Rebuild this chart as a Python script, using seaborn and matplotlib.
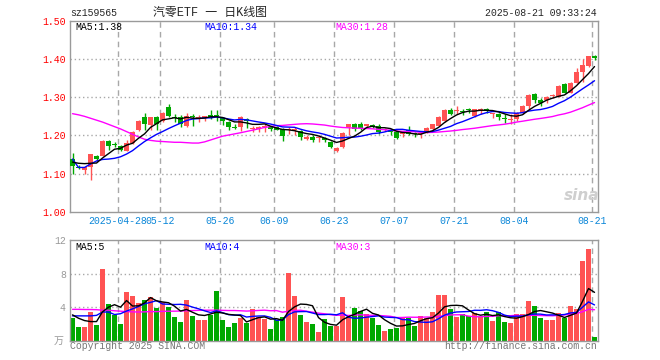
import numpy as np
import pandas as pd
import matplotlib
matplotlib.use("Agg")
import matplotlib.pyplot as plt
import seaborn as sns

# ---- daily candles, index 0 = 2025-04-16 ... index 87 = 2025-08-21 ----
open_ = [1.137, 1.118, 1.110, 1.116, 1.147, 1.147, 1.185, 1.176, 1.172, 1.160,
         1.181, 1.213, 1.247, 1.228, 1.247, 1.238, 1.275, 1.248, 1.248, 1.226,
         1.249, 1.246, 1.246, 1.254, 1.254, 1.245, 1.235, 1.222, 1.223, 1.244,
         1.216, 1.217, 1.221, 1.223, 1.221, 1.216, 1.213, 1.213, 1.212, 1.191,
         1.197, 1.193, 1.193, 1.184, 1.160, 1.169, 1.222, 1.229, 1.229, 1.225,
         1.227, 1.226, 1.213, 1.215, 1.209, 1.204, 1.215, 1.205, 1.203, 1.209,
         1.216, 1.225, 1.238, 1.266, 1.265, 1.264, 1.268, 1.251, 1.266, 1.268,
         1.255, 1.257, 1.245, 1.241, 1.243, 1.259, 1.277, 1.308, 1.294, 1.293,
         1.304, 1.301, 1.335, 1.312, 1.338, 1.367, 1.382, 1.409]
close = [1.119, 1.115, 1.116, 1.150, 1.138, 1.185, 1.172, 1.174, 1.162, 1.180,
         1.209, 1.238, 1.231, 1.247, 1.229, 1.259, 1.251, 1.246, 1.231, 1.251,
         1.247, 1.249, 1.250, 1.247, 1.252, 1.237, 1.221, 1.220, 1.247, 1.239,
         1.218, 1.221, 1.226, 1.217, 1.215, 1.199, 1.216, 1.215, 1.197, 1.197,
         1.188, 1.196, 1.188, 1.169, 1.167, 1.207, 1.229, 1.218, 1.220, 1.229,
         1.225, 1.209, 1.218, 1.209, 1.194, 1.209, 1.204, 1.203, 1.205, 1.220,
         1.229, 1.248, 1.267, 1.257, 1.267, 1.261, 1.266, 1.268, 1.268, 1.266,
         1.258, 1.248, 1.243, 1.244, 1.259, 1.277, 1.306, 1.294, 1.284, 1.300,
         1.305, 1.330, 1.312, 1.338, 1.367, 1.385, 1.409, 1.404]
high = [1.154, 1.122, 1.118, 1.152, 1.148, 1.187, 1.189, 1.182, 1.174, 1.189,
        1.211, 1.240, 1.259, 1.249, 1.250, 1.262, 1.282, 1.255, 1.253, 1.259,
        1.257, 1.253, 1.252, 1.266, 1.267, 1.247, 1.237, 1.230, 1.252, 1.245,
        1.224, 1.226, 1.229, 1.226, 1.224, 1.219, 1.221, 1.221, 1.215, 1.200,
        1.200, 1.200, 1.197, 1.186, 1.169, 1.209, 1.231, 1.233, 1.235, 1.231,
        1.231, 1.229, 1.220, 1.218, 1.211, 1.211, 1.224, 1.209, 1.209, 1.222,
        1.231, 1.250, 1.269, 1.272, 1.277, 1.268, 1.273, 1.270, 1.273, 1.273,
        1.260, 1.259, 1.257, 1.255, 1.262, 1.279, 1.308, 1.310, 1.297, 1.303,
        1.309, 1.332, 1.337, 1.341, 1.376, 1.400, 1.409, 1.411]
low = [1.100, 1.112, 1.100, 1.084, 1.134, 1.146, 1.162, 1.169, 1.158, 1.158,
       1.178, 1.212, 1.215, 1.213, 1.213, 1.234, 1.248, 1.235, 1.222, 1.222,
       1.226, 1.235, 1.237, 1.244, 1.238, 1.228, 1.215, 1.217, 1.212, 1.219,
       1.210, 1.210, 1.208, 1.212, 1.213, 1.185, 1.203, 1.201, 1.188, 1.187,
       1.182, 1.182, 1.182, 1.166, 1.156, 1.167, 1.200, 1.211, 1.215, 1.222,
       1.220, 1.205, 1.211, 1.200, 1.191, 1.197, 1.202, 1.196, 1.193, 1.207,
       1.215, 1.224, 1.235, 1.253, 1.257, 1.253, 1.258, 1.249, 1.257, 1.258,
       1.245, 1.240, 1.233, 1.229, 1.238, 1.257, 1.266, 1.284, 1.277, 1.284,
       1.298, 1.300, 1.310, 1.310, 1.337, 1.341, 1.380, 1.398]
# volume in 万
volume = [2.74, 1.62, 1.62, 3.46, 1.86, 8.58, 4.38, 3.10, 1.98, 5.82,
          5.30, 4.50, 4.86, 5.14, 3.90, 4.62, 4.02, 2.82, 2.22, 4.86,
          2.94, 2.46, 2.46, 3.10, 5.94, 2.46, 1.62, 2.14, 2.74, 2.14,
          3.78, 2.86, 2.58, 1.38, 2.46, 2.78, 8.10, 5.34, 3.06, 2.26,
          1.98, 1.02, 2.58, 1.78, 1.78, 5.22, 2.86, 3.94, 3.54, 3.14,
          2.74, 1.86, 1.14, 1.38, 1.50, 2.86, 2.66, 1.78, 2.98, 2.74,
          3.46, 5.46, 5.46, 3.78, 2.86, 3.14, 2.98, 3.26, 2.86, 3.46,
          2.34, 3.38, 2.26, 2.14, 3.22, 3.22, 4.66, 4.06, 2.74, 2.46,
          2.46, 3.34, 2.74, 4.06, 3.78, 9.46, 10.98, 0.46]

# moving-average values before a full window
ma5_head = [1.130, 1.127, 1.126, 1.127]
ma10_head = [1.138, 1.116, 1.116, 1.125, 1.133, 1.137, 1.138, 1.140, 1.144]
ma30_head = [1.257, 1.254, 1.250, 1.245, 1.240, 1.235, 1.229, 1.223, 1.217, 1.210,
             1.203, 1.196, 1.190, 1.187, 1.185, 1.184, 1.183, 1.182, 1.182, 1.181,
             1.180, 1.180, 1.183, 1.188, 1.193, 1.198, 1.201, 1.204, 1.207]
vma5_head = [3.06, 2.66, 2.38, 2.26]
vma10_head = [2.94, 2.94, 2.94, 2.94, 3.00, 3.40, 3.40, 3.10, 3.20]
vma30_head = [3.72, 3.72, 3.70, 3.70, 3.68, 3.62, 3.62, 3.55, 3.50, 3.45,
              3.42, 3.40, 3.42, 3.45, 3.45, 3.48, 3.50, 3.50, 3.52, 3.55,
              3.58, 3.60, 3.62, 3.62, 3.62, 3.60, 3.58, 3.58, 3.55]

tick_pos = [8, 15, 25, 34, 44, 54, 64, 74, 87]
tick_lbl = ["2025-04-28", "05-12", "05-26", "06-09", "06-23",
            "07-07", "07-21", "08-04", "08-21"]

RED = "#ff5353"
GREEN = "#00a800"
GRID = "#a8a8a8"
FS = 7.15


def moving_avg(values, window, head):
    s = pd.Series(values, dtype=float).rolling(window).mean()
    s.iloc[:window - 1] = head
    return s.to_numpy()


idx = np.arange(len(close))
o = np.array(open_)
c = np.array(close)
up = c >= o

sns.set_style("white")
plt.rcParams["font.family"] = ["Liberation Mono", "Noto Sans CJK SC", "DejaVu Sans"]
plt.rcParams["font.size"] = FS

W, H = 660, 360
fig = plt.figure(figsize=(W / 100, H / 100), dpi=100)


def fx(px):
    return px / W


def fy(py):
    return 1 - py / H


axp = fig.add_axes([fx(70), fy(211.7), fx(598) - fx(70), fy(21) - fy(211.7)])
axv = fig.add_axes([fx(70), fy(340.5), fx(598) - fx(70), fy(240) - fy(340.5)])

XL = (-0.42, len(close) - 0.42)
grid_x = [p - 0.42 for p in tick_pos]

# ---------- price panel ----------
for g in grid_x:
    axp.axvline(g, color=GRID, lw=1, ls=(0, (4, 3)), zorder=0)
for yv in [1.1, 1.2, 1.3, 1.4]:
    axp.axhline(yv, color=GRID, lw=1, ls=(0, (1, 2)), zorder=0)

colors = np.where(up, RED, GREEN)
axp.vlines(idx, low, high, colors=colors, lw=1, zorder=2)
body_lo = np.minimum(o, c)
body_h = np.maximum(np.abs(c - o), 0.0027)
axp.bar(idx, body_h, bottom=body_lo, width=0.83, color=colors, lw=0, zorder=3)

ma_price = pd.DataFrame({
    "i": idx,
    "ma5": moving_avg(close, 5, ma5_head),
    "ma10": moving_avg(close, 10, ma10_head),
    "ma30": moving_avg(close, 30, ma30_head),
})
for col, colr in [("ma30", "#ff00ff"), ("ma10", "#0000ff"), ("ma5", "#000000")]:
    sns.lineplot(data=ma_price, x="i", y=col, color=colr, lw=1, ax=axp, zorder=4)

axp.set_xlim(XL)
axp.set_ylim(1.0, 1.5)
axp.set_yticks([1.0, 1.1, 1.2, 1.3, 1.4, 1.5])
axp.set_yticklabels([f"{v:.2f}" for v in [1.0, 1.1, 1.2, 1.3, 1.4, 1.5]],
                    color="#ff0000", fontsize=FS)
axp.set_xticks(grid_x)
axp.set_xticklabels(tick_lbl, color="#0a86d8", fontsize=FS)
axp.tick_params(length=0, pad=3)
axp.set_xlabel("")
axp.set_ylabel("")

# ---------- volume panel ----------
for g in grid_x:
    axv.axvline(g, color=GRID, lw=1, ls=(0, (4, 3)), zorder=0)
for yv in [4, 8]:
    axv.axhline(yv, color=GRID, lw=1, ls=(0, (1, 2)), zorder=0)

vol_df = pd.DataFrame({"i": idx, "vol": volume,
                       "dir": np.where(up, "up", "down")})
sns.barplot(data=vol_df, x="i", y="vol", hue="dir",
            palette={"up": RED, "down": GREEN}, dodge=False, width=0.83,
            native_scale=True, saturation=1, errorbar=None, legend=False,
            linewidth=0, ax=axv, zorder=2)

ma_vol = pd.DataFrame({
    "i": idx,
    "ma5": moving_avg(volume, 5, vma5_head),
    "ma10": moving_avg(volume, 10, vma10_head),
    "ma30": moving_avg(volume, 30, vma30_head),
})
for col, colr in [("ma30", "#ff00ff"), ("ma10", "#0000ff"), ("ma5", "#000000")]:
    sns.lineplot(data=ma_vol, x="i", y=col, color=colr, lw=1, ax=axv, zorder=4)

axv.set_xlim(XL)
axv.set_ylim(0, 12)
axv.set_yticks([4, 8, 12])
axv.set_yticklabels(["4", "8", "12"], color="#999999", fontsize=FS)
axv.set_xticks(grid_x)
axv.set_xticklabels([])
axv.tick_params(length=0, pad=3)
axv.set_xlabel("")
axv.set_ylabel("")

for ax in (axp, axv):
    for sp in ax.spines.values():
        sp.set_color("#9a9a9a")
        sp.set_linewidth(1)

# ---------- texts ----------
fig.text(fx(70), fy(13), "sz159565", fontsize=FS, va="center", ha="left")
fig.text(fx(210), fy(13), "汽零ETF 一 日K线图", fontsize=8.6, va="center", ha="center")
fig.text(fx(597), fy(13), "2025-08-21 09:33:24", fontsize=FS, va="center", ha="right")

fig.text(fx(75), fy(27), "MA5:1.38", fontsize=FS, va="center", color="#000000")
fig.text(fx(204), fy(27), "MA10:1.34", fontsize=FS, va="center", color="#0000ff")
fig.text(fx(335), fy(27), "MA30:1.28", fontsize=FS, va="center", color="#ff00ff")

fig.text(fx(75), fy(247), "MA5:5", fontsize=FS, va="center", color="#000000")
fig.text(fx(204), fy(247), "MA10:4", fontsize=FS, va="center", color="#0000ff")
fig.text(fx(335), fy(247), "MA30:3", fontsize=FS, va="center", color="#ff00ff")

fig.text(fx(64), fy(341), "万", fontsize=FS, va="center", ha="right", color="#999999")
fig.text(fx(70), fy(346), "Copyright 2025 SINA.COM", fontsize=FS, va="center",
         ha="left", color="#777777")
fig.text(fx(597), fy(346), "http://finance.sina.com.cn", fontsize=FS, va="center",
         ha="right", color="#777777")

fig.text(fx(582), fy(196), "sina", fontsize=11, va="center", ha="center",
         color="#cfcfcf", style="italic", weight="bold", family="DejaVu Sans")

fig.savefig("out.png", dpi=100)
